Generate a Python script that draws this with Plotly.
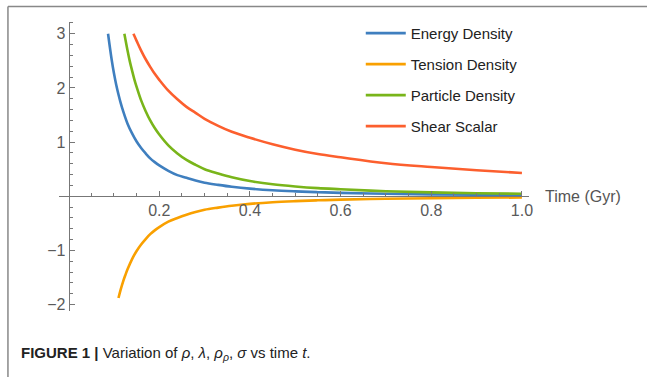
import plotly.graph_objects as go

W, H = 651, 379

# ---- data ----
series_names = ["Energy Density", "Tension Density", "Particle Density", "Shear Scalar"]
series_colors = ["#3f7fbf", "#f9a000", "#79b51a", "#fc5f2e"]

t_energy = [0.087, 0.095, 0.10, 0.105, 0.11, 0.115, 0.12, 0.13, 0.14, 0.15, 0.16, 0.17, 0.18,
            0.19, 0.20, 0.22, 0.24, 0.26, 0.28, 0.30, 0.33, 0.36, 0.40, 0.45, 0.50, 0.55,
            0.60, 0.70, 0.80, 0.90, 1.00]
energy = [3.00, 2.52, 2.27, 2.06, 1.88, 1.72, 1.58, 1.34, 1.16, 1.01, 0.89, 0.79, 0.70,
          0.63, 0.57, 0.47, 0.39, 0.34, 0.29, 0.25, 0.21, 0.175, 0.14, 0.11, 0.09, 0.075,
          0.063, 0.046, 0.035, 0.028, 0.023]

t_tension = [0.110, 0.115, 0.12, 0.125, 0.13, 0.14, 0.15, 0.16, 0.17, 0.18, 0.19, 0.20, 0.22,
             0.24, 0.26, 0.28, 0.30, 0.33, 0.36, 0.40, 0.45, 0.50, 0.55, 0.60, 0.70, 0.80,
             0.90, 1.00]
tension = [-1.88, -1.72, -1.58, -1.46, -1.35, -1.16, -1.01, -0.89, -0.79, -0.70, -0.63, -0.57,
           -0.47, -0.40, -0.34, -0.29, -0.25, -0.21, -0.175, -0.14, -0.11, -0.09, -0.075,
           -0.063, -0.047, -0.036, -0.028, -0.023]

t_particle = [0.123, 0.13, 0.135, 0.14, 0.145, 0.15, 0.16, 0.17, 0.18, 0.19, 0.20, 0.22, 0.24,
              0.26, 0.28, 0.30, 0.33, 0.36, 0.40, 0.45, 0.50, 0.55, 0.60, 0.70, 0.80, 0.90, 1.00]
particle = [3.00, 2.69, 2.49, 2.32, 2.16, 2.02, 1.77, 1.57, 1.40, 1.26, 1.14, 0.94, 0.79,
            0.67, 0.58, 0.50, 0.42, 0.35, 0.28, 0.22, 0.18, 0.15, 0.13, 0.093, 0.071, 0.056, 0.045]

t_shear = [0.143, 0.15, 0.16, 0.17, 0.18, 0.19, 0.20, 0.22, 0.24, 0.26, 0.28, 0.30, 0.33,
           0.36, 0.40, 0.45, 0.50, 0.55, 0.60, 0.70, 0.80, 0.90, 1.00]
shear = [3.00, 2.87, 2.69, 2.53, 2.39, 2.26, 2.15, 1.95, 1.79, 1.65, 1.54, 1.43, 1.30,
         1.19, 1.08, 0.96, 0.86, 0.78, 0.72, 0.61, 0.54, 0.48, 0.43]

x_ticks = [0.2, 0.4, 0.6, 0.8, 1.0]
x_ticktext = ["0.2", "0.4", "0.6", "0.8", "1.0"]
y_ticks = [-2, -1, 1, 2, 3]
y_ticktext = ["\u22122", "\u22121", "1", "2", "3"]
x_minor = [0.05, 0.10, 0.15, 0.25, 0.30, 0.35, 0.45, 0.50, 0.55, 0.65, 0.70, 0.75,
           0.85, 0.90, 0.95]
y_minor = [-1.8, -1.6, -1.4, -1.2, -0.8, -0.6, -0.4, -0.2, 0.2, 0.4, 0.6, 0.8,
           1.2, 1.4, 1.6, 1.8, 2.2, 2.4, 2.6, 2.8, 3.2]

x_range = [-0.022, 1.015]
y_range = [-2.12, 3.22]

# ---- layout geometry (pixels -> paper) ----
x_dom = [59 / W, 532 / W]
y_dom = [1 - 312.7 / H, 1 - 22 / H]
x_axis_pos = y_dom[0] + (0 - y_range[0]) / (y_range[1] - y_range[0]) * (y_dom[1] - y_dom[0])
y_axis_pos = x_dom[0] + (0 - x_range[0]) / (x_range[1] - x_range[0]) * (x_dom[1] - x_dom[0])

fig = go.Figure()
data = [(t_energy, energy), (t_tension, tension), (t_particle, particle), (t_shear, shear)]
for (tx, vy), name, col in zip(data, series_names, series_colors):
    fig.add_trace(go.Scatter(x=tx, y=vy, mode="lines", name=name, legendgroup=name,
                             line=dict(color=col, width=2.6, shape="spline", smoothing=1.0)))

axis_col = "#777777"
tick_font = dict(family="Liberation Sans, Arial, sans-serif", size=16, color="#5a5a5a")

fig.update_layout(
    width=W, height=H,
    margin=dict(l=0, r=0, t=0, b=0),
    paper_bgcolor="white", plot_bgcolor="white",
    showlegend=True,
    legend=dict(x=363 / W, y=1 - 17 / H, xanchor="left", yanchor="top",
                font=dict(family="Liberation Sans, Arial, sans-serif", size=15, color="#222222"),
                tracegroupgap=8.5, bgcolor="rgba(0,0,0,0)", itemwidth=40),
    xaxis=dict(range=x_range, domain=x_dom, anchor="free", position=x_axis_pos,
               showline=True, linecolor=axis_col, linewidth=1, showgrid=False, zeroline=False,
               ticks="inside", ticklen=5, tickcolor=axis_col, tickwidth=1,
               tickvals=x_ticks, ticktext=x_ticktext, tickfont=tick_font,
               minor=dict(tickvals=x_minor, ticks="inside", ticklen=3, tickcolor=axis_col,
                          showgrid=False)),
    yaxis=dict(range=y_range, domain=y_dom, anchor="free", position=y_axis_pos,
               showline=True, linecolor=axis_col, linewidth=1, showgrid=False, zeroline=False,
               ticks="inside", ticklen=5, tickcolor=axis_col, tickwidth=1,
               tickvals=y_ticks, ticktext=y_ticktext, tickfont=tick_font,
               minor=dict(tickvals=y_minor, ticks="inside", ticklen=3, tickcolor=axis_col,
                          showgrid=False)),
)

fig.add_annotation(text="Time (Gyr)", xref="x", yref="y", x=x_range[1], y=0,
                   xanchor="left", yanchor="middle", xshift=14, showarrow=False,
                   font=dict(family="Liberation Sans, Arial, sans-serif", size=16, color="#555555"))

caption = ("<b>FIGURE 1 |</b> Variation of <i>\u03c1</i>, <i>\u03bb</i>, "
           "<i>\u03c1</i><sub><i>\u03c1</i></sub>, <i>\u03c3</i> vs time <i>t</i>.")
fig.add_annotation(text=caption, xref="paper", yref="paper", x=19 / W, y=1 - 355 / H,
                   xanchor="left", yanchor="middle", showarrow=False,
                   font=dict(family="Liberation Sans, Arial, sans-serif",
                             size=15, color="#222222"))

# frame lines (top and left edges of the figure panel)
fig.add_shape(type="line", xref="paper", yref="paper", x0=8 / W, x1=1, y0=1 - 6.5 / H, y1=1 - 6.5 / H,
              line=dict(color="#888888", width=1.5))
fig.add_shape(type="line", xref="paper", yref="paper", x0=8 / W, x1=8 / W, y0=0, y1=1 - 6.5 / H,
              line=dict(color="#888888", width=1.5))

fig.write_html("out.html")
